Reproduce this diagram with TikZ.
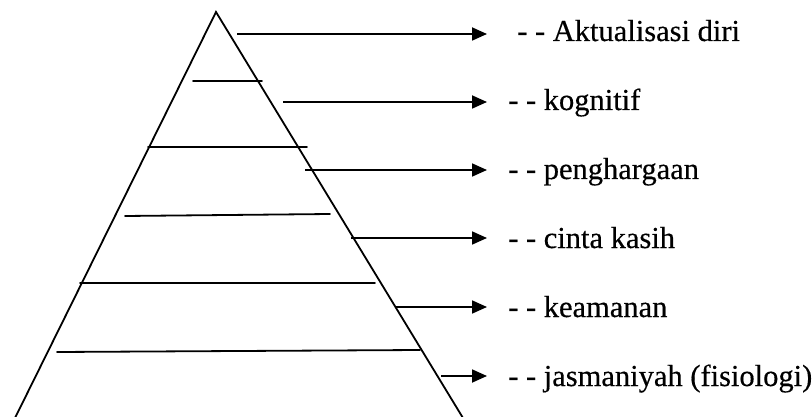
\documentclass[tikz,border=0pt]{standalone}
\usepackage{fontspec}
\setmainfont{Liberation Serif}[FakeBold=0.4]
\usetikzlibrary{arrows.meta}
\begin{document}
\begin{tikzpicture}[x=1pt,y=-1pt,
  edge/.style={line width=1.8pt, line cap=round},
  arr/.style={line width=1.8pt,-{Triangle[length=15pt,width=13pt]}},
  lab/.style={anchor=base west, inner sep=0pt, font=\fontsize{30.5}{32}\selectfont}]
\useasboundingbox (0,0) rectangle (812,417);
% pyramid
\coordinate (apex) at (216,12);
\coordinate (bl) at (15,418);
\coordinate (br) at (463,418);
\draw[edge] (bl) -- (apex) -- (br);
% level lines
\coordinate (l1a) at (193,81);  \coordinate (l1b) at (262,81);
\coordinate (l2a) at (148,147); \coordinate (l2b) at (307,147);
\coordinate (l3a) at (125,216); \coordinate (l3b) at (330,214);
\coordinate (l4a) at (80,283);  \coordinate (l4b) at (375,283);
\coordinate (l5a) at (57,352);  \coordinate (l5b) at (420,350);
\foreach \i in {1,...,5} \draw[edge] (l\i a) -- (l\i b);
% labels
\node[lab] (t1) at (517,41)  {- - Aktualisasi diri};
\node[lab] (t2) at (508,110) {- - kognitif};
\node[lab] (t3) at (508,179) {- - penghargaan};
\node[lab] (t4) at (508,248) {- - cinta kasih};
\node[lab] (t5) at (508,317) {- - keamanan};
\node[lab] (t6) at (508,386) {- - jasmaniyah (fisiologi)};
% arrows
\coordinate (s1) at (237,34);  \coordinate (e1) at (487,34);
\coordinate (s2) at (283,102); \coordinate (e2) at (487,102);
\coordinate (s3) at (305,170); \coordinate (e3) at (487,170);
\coordinate (s4) at (351,238); \coordinate (e4) at (487,238);
\coordinate (s5) at (396,307); \coordinate (e5) at (487,307);
\coordinate (s6) at (441,376); \coordinate (e6) at (487,376);
\foreach \i in {1,...,6} \draw[arr] (s\i) -- (e\i);
\end{tikzpicture}
\end{document}
